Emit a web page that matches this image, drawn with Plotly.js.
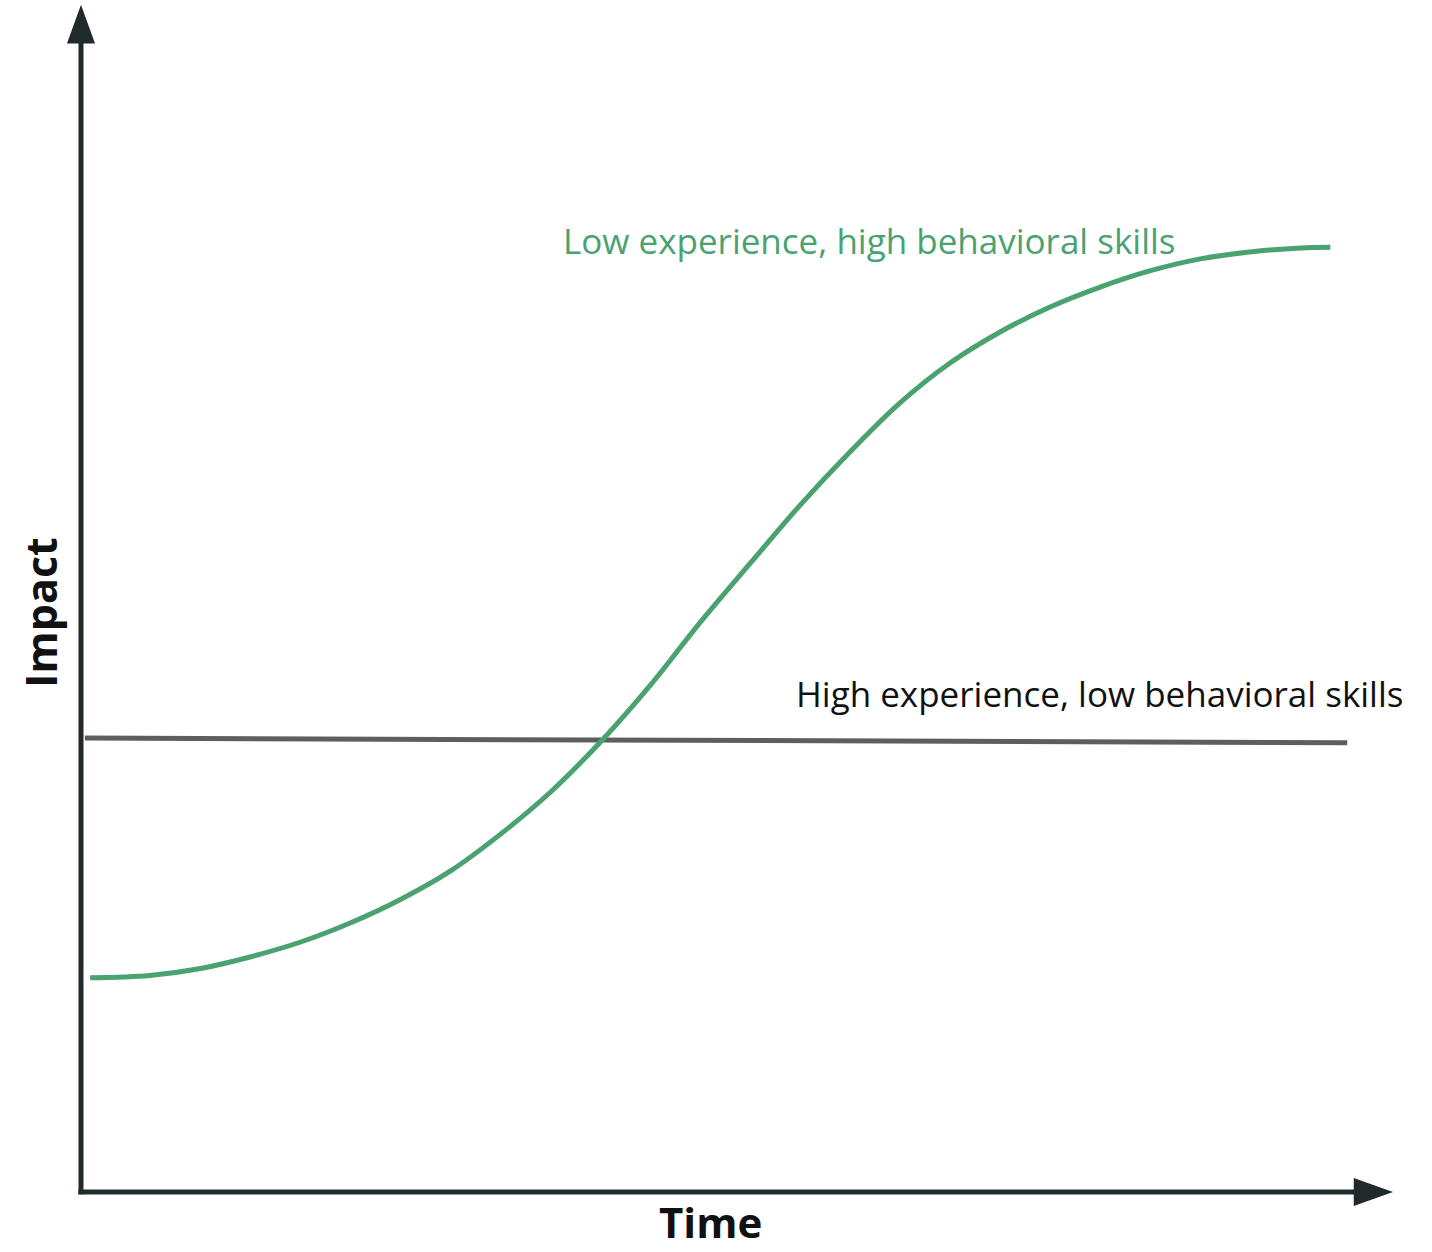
<!DOCTYPE html>
<html><head><meta charset="utf-8">
<script src="https://cdn.plot.ly/plotly-3.0.1.min.js"></script>
<style>html,body{margin:0;padding:0;background:#fff;}#chart{width:1432px;height:1252px;}</style>
</head><body><div id="chart"></div>
<script>
// Time (0-100) vs Impact (0-100), conceptual chart
const timeGreen = [0.7, 5.3, 9.2, 13.0, 16.9, 20.7, 24.5, 28.4, 32.2, 36.1, 39.9, 43.8, 47.6, 51.5, 55.3, 59.2, 63.0, 66.9, 70.7, 74.5, 78.4, 82.2, 86.1, 89.9, 93.8, 96.1];
const impactGreen = [18.6, 18.8, 19.4, 20.4, 21.7, 23.35, 25.35, 27.85, 31.0, 34.7, 39.0, 44.0, 49.4, 54.6, 59.6, 64.3, 68.5, 72.0, 74.65, 76.8, 78.55, 79.95, 81.0, 81.6, 81.95, 82.0];
const timeGray = [0.3, 97.4];
const impactGray = [39.4, 39.0];
const labelGreen = "Low experience, high behavioral skills";
const labelGray = "High experience, low behavioral skills";
const xTitle = "Time";
const yTitle = "Impact";

const axisColor = "#212a2b";
const green = "#4aa271";
const gray = "#5e5e5e";
const font = "'Open Sans', Lato, sans-serif";

const traces = [
  {x: timeGray, y: impactGray, mode: "lines", line: {color: gray, width: 5}, hoverinfo: "skip"},
  {x: timeGreen, y: impactGreen, mode: "lines", line: {color: green, width: 5, shape: "spline", smoothing: 1}, hoverinfo: "skip"}
];

const layout = {
  width: 1432, height: 1252,
  margin: {l: 0, r: 0, t: 0, b: 0},
  paper_bgcolor: "#fff", plot_bgcolor: "#fff",
  showlegend: false,
  xaxis: {range: [-6.23, 103.92], visible: false, fixedrange: true},
  yaxis: {range: [-5.21, 103.47], visible: false, fixedrange: true},
  shapes: [
    {type: "line", xref: "x", yref: "y", x0: 0, x1: 0, y0: -0.2, y1: 100, line: {color: axisColor, width: 5}},
    {type: "line", xref: "x", yref: "y", x0: -0.2, x1: 98, y0: 0, y1: 0, line: {color: axisColor, width: 5}},
    {type: "path", xref: "x", yref: "y", path: "M -1.08 99.7 L 1.08 99.7 L 0 103.05 Z", fillcolor: axisColor, line: {width: 0}},
    {type: "path", xref: "x", yref: "y", path: "M 97.9 1.22 L 97.9 -1.22 L 100.92 0 Z", fillcolor: axisColor, line: {width: 0}}
  ],
  annotations: [
    {x: 37.0, y: 82.6, xref: "x", yref: "y", text: labelGreen, showarrow: false, xanchor: "left", yanchor: "middle", borderpad: 0, font: {family: font, size: 35, color: green}},
    {x: 54.9, y: 43.3, xref: "x", yref: "y", text: labelGray, showarrow: false, xanchor: "left", yanchor: "middle", borderpad: 0, font: {family: font, size: 35, color: "#111"}},
    {x: 48.46, y: -5.15, xref: "x", yref: "y", text: "<b>" + xTitle + "</b>", showarrow: false, xanchor: "center", yanchor: "bottom", borderpad: 0, font: {family: font, size: 42, color: "#111"}},
    {x: -3.1, y: 50.26, xref: "x", yref: "y", text: "<b>" + yTitle + "</b>", showarrow: false, textangle: -90, xanchor: "center", yanchor: "middle", font: {family: font, size: 43, color: "#111"}}
  ]
};
Plotly.newPlot("chart", traces, layout, {displayModeBar: false, staticPlot: true});
</script></body></html>
